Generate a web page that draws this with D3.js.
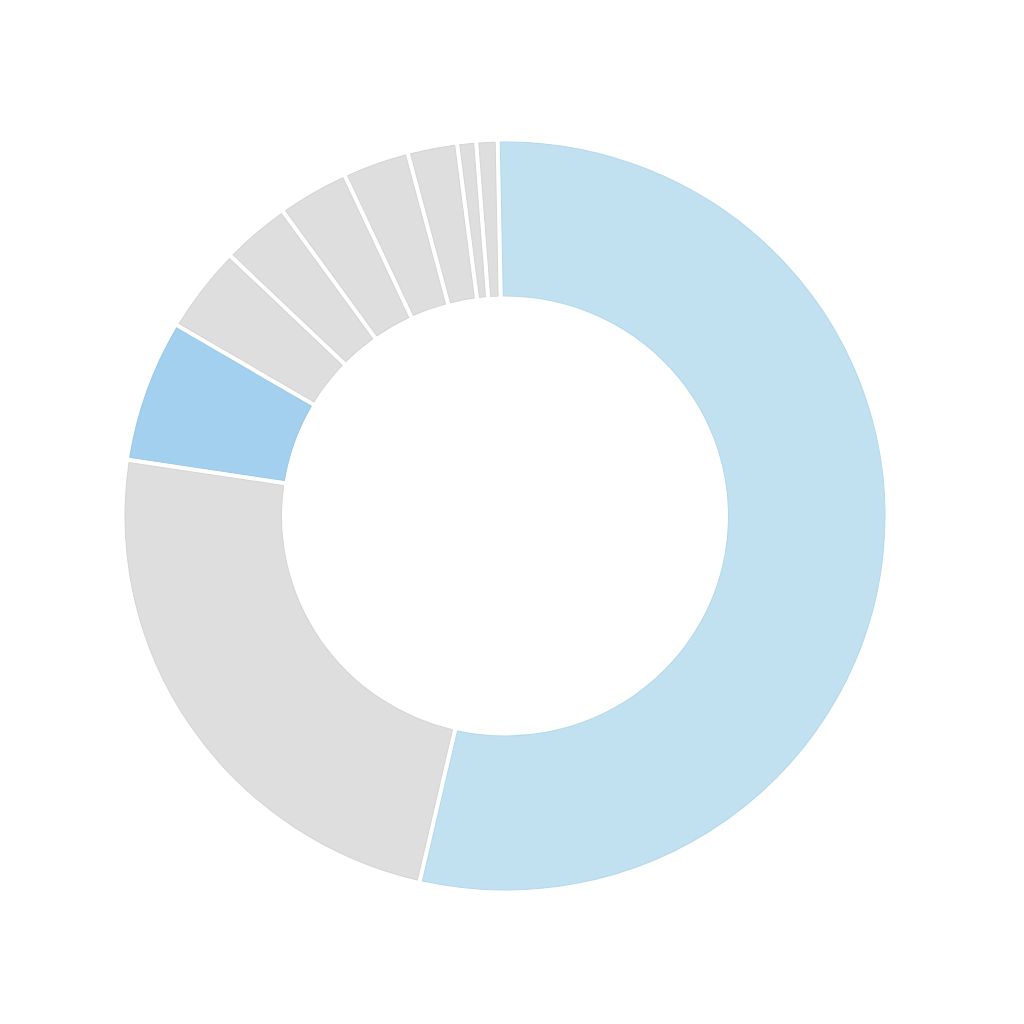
<!DOCTYPE html>
<html><head><meta charset="utf-8">
<script src="https://cdn.jsdelivr.net/npm/d3@7"></script>
<style>html,body{margin:0;padding:0;background:#fff;}</style>
</head><body>
<svg id="chart" width="1024" height="1024"></svg>
<script>
const categories = ["A","B","C","D","E","F","G","H","I","J"];
const values = [53.9, 23.8, 6.1, 3.7, 2.9, 3.0, 2.8, 2.1, 0.8, 0.9];
const fills = ["#c1e0f0","#dedede","#a3d0ee","#dedede","#dedede","#dedede","#dedede","#dedede","#dedede","#dedede"];
const strokes = ["#b3d8ec","#d4d4d4","#98c8e8","#d4d4d4","#d4d4d4","#d4d4d4","#d4d4d4","#d4d4d4","#d4d4d4","#d4d4d4"];

const svg = d3.select("#chart");
const cx = 505, cy = 516, outerR = 374, innerR = 220;
const g = svg.append("g").attr("transform", `translate(${cx},${cy}) scale(1.016,1)`);

const start = -1.1 * Math.PI / 180;
const pie = d3.pie().sort(null).value(d => d.v).startAngle(start).endAngle(start + 2 * Math.PI);
const data = categories.map((c, i) => ({c, v: values[i], i}));
const arc = d3.arc().innerRadius(innerR).outerRadius(outerR).padAngle(0.017).padRadius(300);

g.selectAll("path").data(pie(data)).join("path")
  .attr("d", arc)
  .attr("fill", d => fills[d.data.i])
  .attr("stroke", d => strokes[d.data.i])
  .attr("stroke-width", 1);
</script>
</body></html>
